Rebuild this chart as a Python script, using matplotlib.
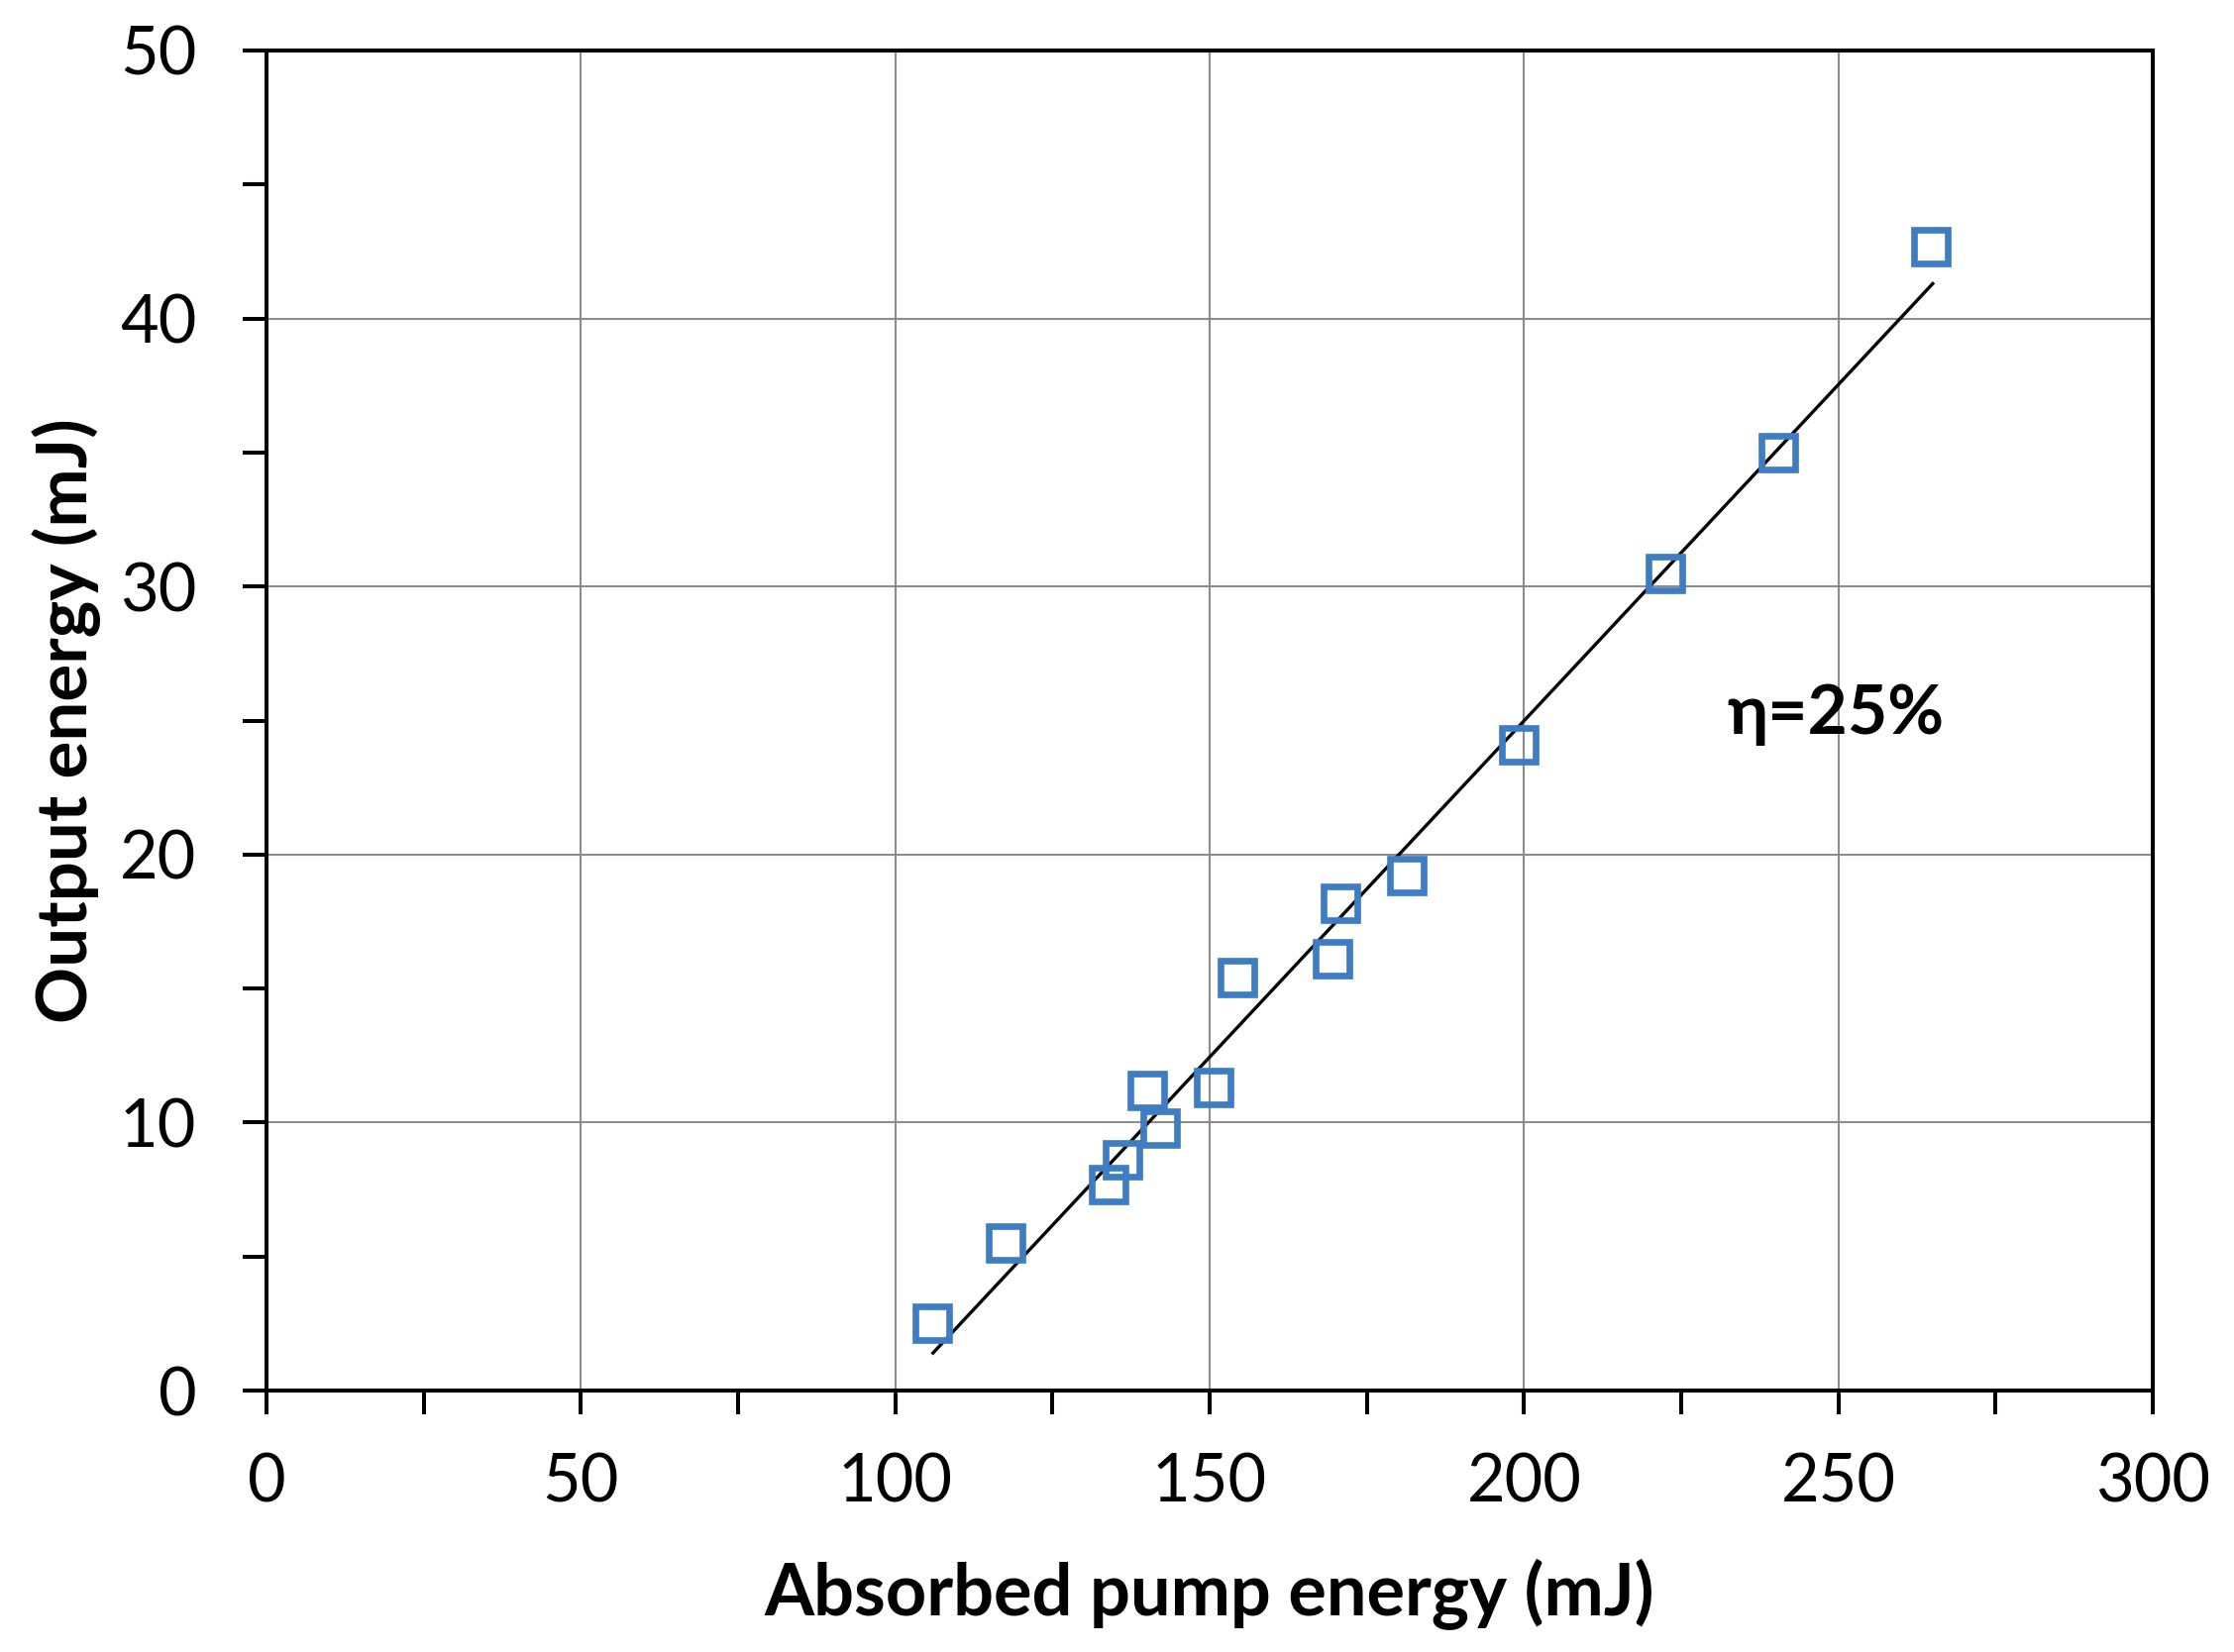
import matplotlib
matplotlib.use("Agg")
import matplotlib.pyplot as plt
from matplotlib.ticker import MultipleLocator

plt.rcParams['font.family'] = ['Lato', 'DejaVu Sans']

# Data
pump_energy = [105.9, 117.6, 134.0, 136.2, 140.0, 142.2, 150.6, 154.4,
               169.6, 170.8, 181.3, 199.2, 222.5, 240.4, 264.7]
output_energy = [2.5, 5.5, 7.7, 8.6, 11.2, 9.8, 11.3, 15.4,
                 16.1, 18.2, 19.2, 24.1, 30.5, 35.0, 42.7]
fit_x = [106.0, 265.0]
fit_y = [1.4, 41.3]
annotation = "η=25%"
x_ticks = [0, 50, 100, 150, 200, 250, 300]
y_ticks = [0, 10, 20, 30, 40, 50]

fig = plt.figure(figsize=(22.55, 16.68), dpi=100)
ax = fig.add_axes([269/2255, 1 - 1404/1668, 1904/2255, 1353/1668])

ax.plot(fit_x, fit_y, color='black', lw=2.4, zorder=3)
ax.plot(pump_energy, output_energy, linestyle='none', marker='s',
        markersize=24.5, markerfacecolor='none', markeredgecolor='#3E7CC3',
        markeredgewidth=4.8, zorder=4)

ax.set_xlim(0, 300)
ax.set_ylim(0, 50)
ax.set_xticks(x_ticks)
ax.set_yticks(y_ticks)
ax.xaxis.set_minor_locator(MultipleLocator(25))
ax.yaxis.set_minor_locator(MultipleLocator(5))
ax.grid(True, which='major', color='#8c8c8c', lw=1.5)
ax.set_axisbelow(True)

for s in ax.spines.values():
    s.set_linewidth(2.9)
    s.set_color('black')

ax.tick_params(axis='both', which='both', direction='out', length=17,
               width=2.9, color='black', labelsize=48)
ax.tick_params(axis='y', which='both', pad=34)
ax.tick_params(axis='x', which='both', pad=28)

ax.set_xlabel("Absorbed pump energy (mJ)", fontsize=52, fontweight='bold', va='center')
ax.xaxis.set_label_coords(0.5, -0.152)
ax.set_ylabel("Output energy (mJ)", fontsize=51, fontweight='bold', va='center')
ax.yaxis.set_label_coords(-0.106, 0.5)

ax.text(232.3, 24.5, annotation, fontsize=50, fontweight='bold',
        ha='left', va='baseline', zorder=5)

fig.savefig("out.png", dpi=100)
